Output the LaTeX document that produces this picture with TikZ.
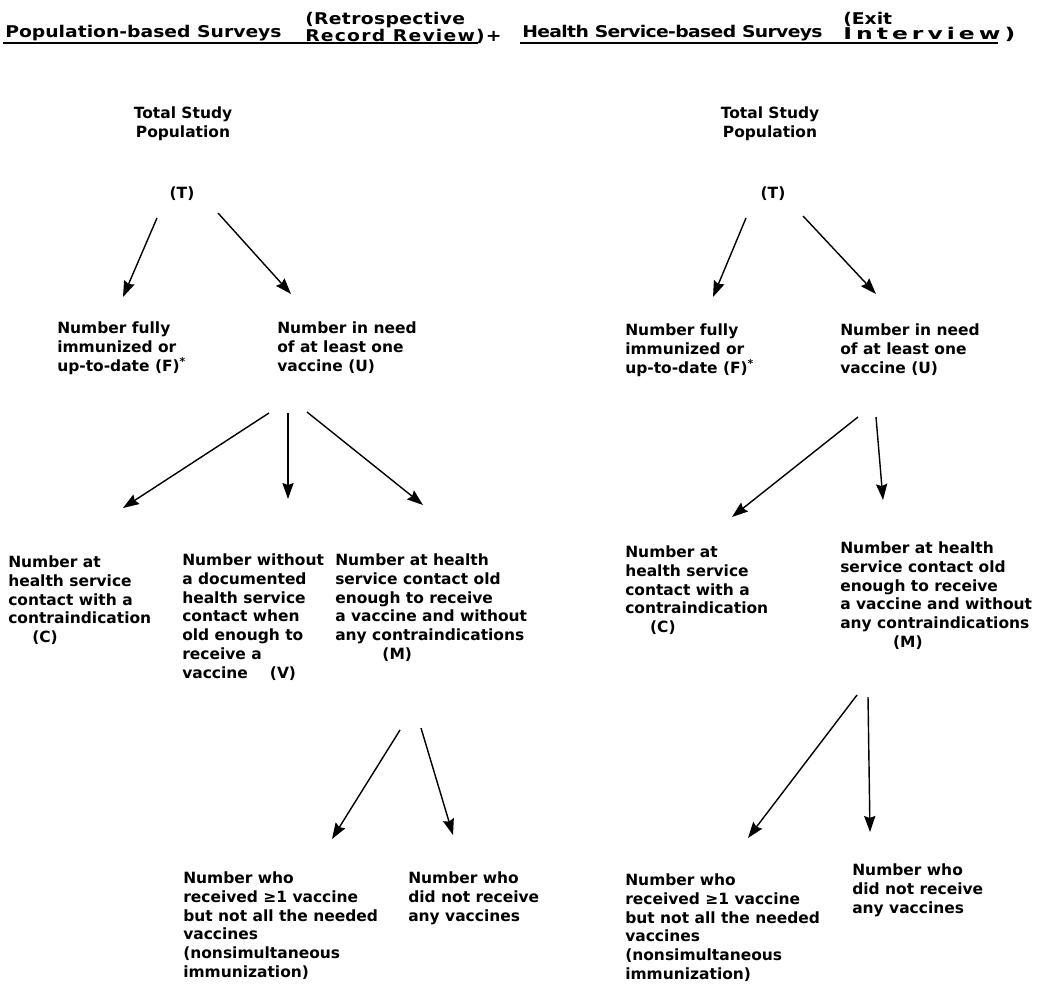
\documentclass[tikz,border=0pt]{standalone}
\usepackage{graphicx}
\usepackage{fontspec}
\setmainfont{DejaVu Sans}
\newfontfamily\headfont{DejaVu Sans Bold}[FakeStretch=1.16]
\usetikzlibrary{arrows.meta,calc}

\newcommand{\spaced}[2]{{\addfontfeature{LetterSpace=#1}#2}}

\tikzset{
  head/.style={inner sep=0pt, font=\headfont\fontsize{11.5}{10.9}\selectfont},
  txt/.style={anchor=north west, inner sep=0pt, align=left, font=\fontsize{11}{13.5}\selectfont\bfseries},
  ctr/.style={inner sep=0pt, align=center, font=\fontsize{11}{13.5}\selectfont\bfseries},
  arr/.style={-{Stealth[length=4mm,width=2.8mm,inset=0.5mm]}, line width=1pt}
}

\begin{document}
\begin{tikzpicture}[x=0.025cm, y=-0.025cm]
\useasboundingbox (0,0) rectangle (1057,990);

% headings
\node[head, anchor=base west] (popHead) at (5,38) {Population-based Surveys};
\node[head, anchor=north west, align=left] (popNote) at (305,12) {\spaced{2}{(Retrospective}\\\spaced{7.5}{Record Review)+}};
\node[head, anchor=base west] (hsHead) at (522,38) {\spaced{-4}{Health Service-based Surveys}};
\node[head, anchor=north west, align=left] (hsNote) at (843,12) {(Exit\\\scalebox{1.25}[1]{\spaced{20}{Interview)}}};
\draw[line width=1pt] ($(popHead.base west)+(-2,5)$) -- ++(475,0);
\draw[line width=1pt] ($(hsHead.base west)+(-2,5)$) -- ++(478,0);

% population-based tree
\node[ctr, anchor=north] (totL) at (183,106) {Total Study\\Population};
\node[ctr, anchor=base] (tL) at (182,199) {(T)};
\node[txt] (fL) at (57,321) {Number fully\\immunized or\\up-to-date (F)\textsuperscript{*}};
\node[txt] (uL) at (277,321) {Number in need\\of at least one\\vaccine (U)};
\node[txt] (cL) at (8,555) {Number at\\health service\\contact with a\\contraindication\\\hspace*{0.6cm}(C)};
\node[txt] (vL) at (182,553) {Number without\\a documented\\health service\\contact when\\old enough to\\receive a\\vaccine\hspace{0.55cm}(V)};
\node[txt] (mL) at (335,553) {Number at health\\service contact old\\enough to receive\\a vaccine and without\\any contraindications\\\hspace*{1.18cm}(M)};
\node[txt] (nsL) at (183,871) {Number who\\received ≥1 vaccine\\but not all the needed\\vaccines\\(nonsimultaneous\\immunization)};
\node[txt] (dnL) at (408,871) {Number who\\did not receive\\any vaccines};

\draw[arr] ($(tL.base)+(-25,19)$) -- ($(fL.north west)+(66,-24)$);
\draw[arr] ($(tL.base)+(36,14)$) -- ($(uL.north west)+(14,-27)$);
\draw[arr] ($(uL.north west)+(-8,92)$) -- ($(cL.north west)+(115,-47)$);
\draw[arr] ($(uL.north west)+(11,92)$) -- ($(vL.north west)+(106,-54)$);
\draw[arr] ($(uL.north west)+(30,91)$) -- ($(mL.north west)+(88,-48)$);
\draw[arr] ($(mL.north west)+(65,177)$) -- ($(nsL.north west)+(149,-32)$);
\draw[arr] ($(mL.north west)+(86,175)$) -- ($(dnL.north west)+(45,-36)$);

% health service-based tree
\node[ctr, anchor=north] (totR) at (770,106) {Total Study\\Population};
\node[ctr, anchor=base] (tR) at (773,199) {(T)};
\node[txt] (fR) at (625,323) {Number fully\\immunized or\\up-to-date (F)\textsuperscript{*}};
\node[txt] (uR) at (840,323) {Number in need\\of at least one\\vaccine (U)};
\node[txt] (cR) at (625,545) {Number at\\health service\\contact with a\\contraindication\\\hspace*{0.62cm}(C)};
\node[txt] (mR) at (840,541) {Number at health\\service contact old\\enough to receive\\a vaccine and without\\any contraindications\\\hspace*{1.32cm}(M)};
\node[txt] (nsR) at (625,873) {Number who\\received ≥1 vaccine\\but not all the needed\\vaccines\\(nonsimultaneous\\immunization)};
\node[txt] (dnR) at (852,863) {Number who\\did not receive\\any vaccines};

\draw[arr] ($(tR.base)+(-27,19)$) -- ($(fR.north west)+(88,-26)$);
\draw[arr] ($(tR.base)+(30,17)$) -- ($(uR.north west)+(36,-29)$);
\draw[arr] ($(uR.north west)+(18,94)$) -- ($(cR.north west)+(107,-28)$);
\draw[arr] ($(uR.north west)+(36,94)$) -- ($(mR.north west)+(43,-41)$);
\draw[arr] ($(mR.north west)+(17,154)$) -- ($(nsR.north west)+(123,-35)$);
\draw[arr] ($(mR.north west)+(28,156)$) -- ($(dnR.north west)+(18,-31)$);
\end{tikzpicture}
\end{document}
